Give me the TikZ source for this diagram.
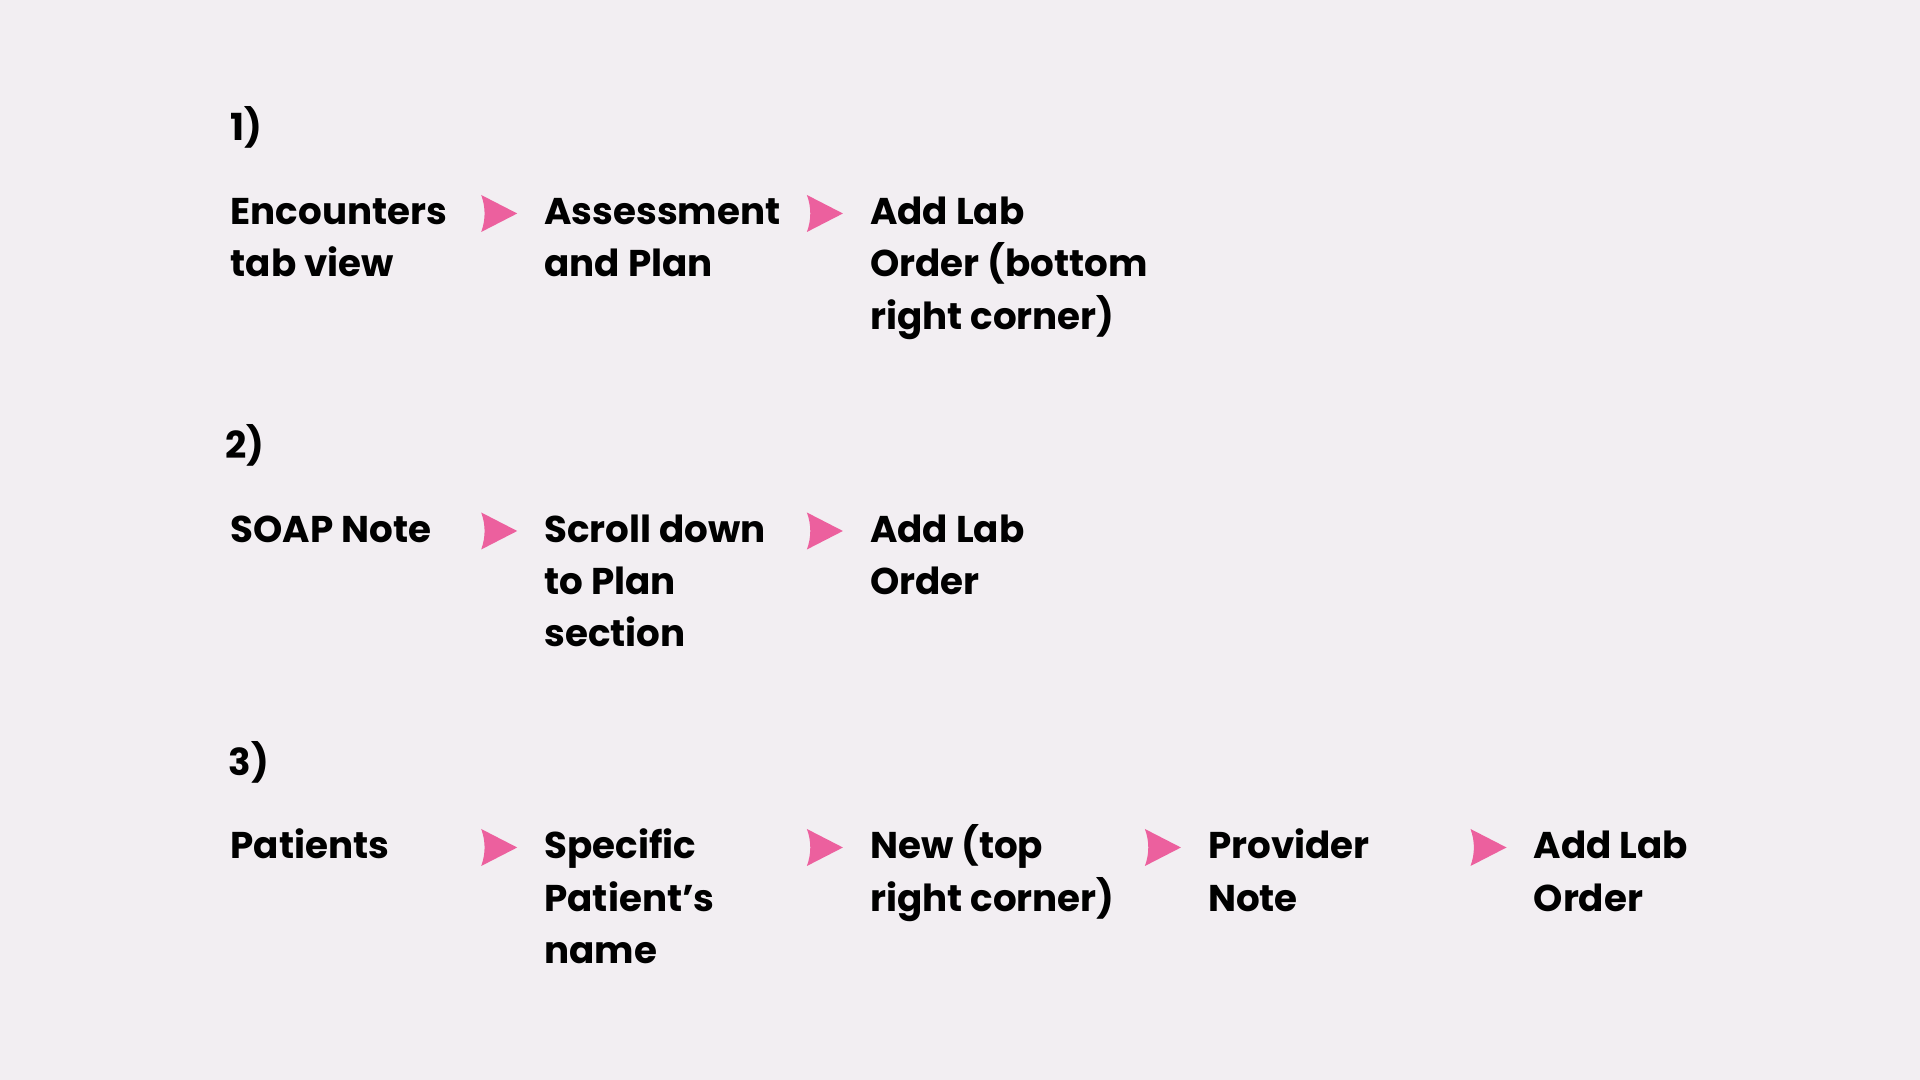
\documentclass[tikz,border=0pt]{standalone}
\usepackage{fontspec}
\setmainfont{Poppins}
\usepackage{xcolor}
\usetikzlibrary{calc}
\definecolor{pagebg}{HTML}{F2EEF2}
\definecolor{chevpink}{HTML}{EC609E}
% lines of one step, baseline on the first line
\newcommand{\steplines}[1]{\begin{tabular}[t]{@{}l@{}}#1\end{tabular}}

\begin{document}
\begin{tikzpicture}[
    stepnode/.style={anchor=base west, inner sep=0pt,
        font=\fontsize{10.6pt}{14.8pt}\selectfont\bfseries},
    numnode/.style={stepnode},
    chev/.pic={\fill[chevpink] (0,0) -- (-0.36,0.185)
        .. controls (-0.315,0.06) and (-0.315,-0.06) .. (-0.36,-0.185) -- cycle;}
]
    % Background
    \fill[pagebg] (0,0) rectangle (19.2,10.8);

    % Numbers
    \node[numnode] (n1) at (2.30,9.39) {1)};
    \node[numnode] (n2) at (2.25,6.215) {2)};
    \node[numnode] (n3) at (2.28,3.04) {3)};

    % Row 1
    \node[stepnode] (a1) at (2.30,8.55) {\steplines{Encounters\\tab view}};
    \node[stepnode] (a2) at (5.437,8.55) {\steplines{Assessment\\and Plan}};
    \node[stepnode] (a3) at (8.694,8.55) {\steplines{Add Lab\\Order (bottom\\right corner)}};

    % Row 2
    \node[stepnode] (b1) at (2.30,5.375) {\steplines{SOAP Note}};
    \node[stepnode] (b2) at (5.437,5.375) {\steplines{Scroll down\\to Plan\\section}};
    \node[stepnode] (b3) at (8.694,5.375) {\steplines{Add Lab\\Order}};

    % Row 3
    \node[stepnode] (c1) at (2.30,2.21) {\steplines{Patients}};
    \node[stepnode] (c2) at (5.437,2.21) {\steplines{Specific\\Patient’s\\name}};
    \node[stepnode] (c3) at (8.694,2.21) {\steplines{New (top\\right corner)}};
    \node[stepnode] (c4) at (12.074,2.21) {\steplines{Provider\\Note}};
    \node[stepnode] (c5) at (15.33,2.21) {\steplines{Add Lab\\Order}};

    % Arrows
    \foreach \s in {a2,a3,b2,b3,c2,c3,c4,c5}
        \pic at ($(\s.base west)+(-0.265,0.115)$) {chev};
\end{tikzpicture}
\end{document}
